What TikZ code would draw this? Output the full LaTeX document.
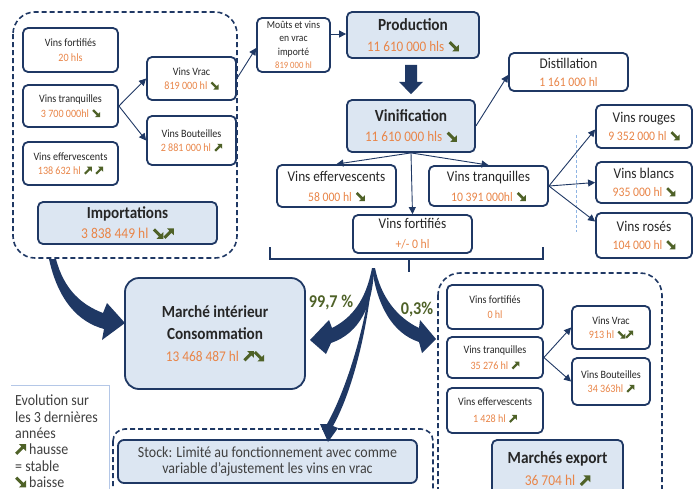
\documentclass[tikz,border=0pt]{standalone}
\usepackage{fontspec}
\setmainfont{Carlito}[FakeStretch=0.9]
\usetikzlibrary{arrows.meta,calc}
\definecolor{navy}{HTML}{1F3864}
\definecolor{lblue}{HTML}{DCE6F2}
\definecolor{orng}{HTML}{E98548}
\definecolor{olive}{HTML}{4F6228}
\definecolor{txt}{HTML}{262626}
\definecolor{gtxt}{HTML}{404040}
\definecolor{legb}{HTML}{B4C7E7}
\definecolor{dashb}{HTML}{8EB4E3}
\newcommand\fs[2]{\fontsize{#1}{#2}\selectfont}
\newcommand\trendup{\tikz[baseline=0pt,x=0.7em,y=0.7em,sharp corners]\fill[olive] (0,0.2)--(0.575,0.775)--(0.35,1)--(1,1)--(1,0.35)--(0.775,0.575)--(0.2,0)--cycle;}
\newcommand\trenddn{\tikz[baseline=0pt,x=0.7em,y=0.7em,sharp corners]\fill[olive] (0,0.8)--(0.575,0.225)--(0.35,0)--(1,0)--(1,0.65)--(0.775,0.425)--(0.2,1)--cycle;}
\newcommand\vl[1]{\textcolor{orng}{#1}\hspace{0.3em}}
\tikzset{
  bx/.style={draw=navy, line width=1.8pt, rounded corners=5pt, fill=white, inner sep=0pt, align=center, text=txt},
  fbx/.style={bx, fill=lblue},
  sm/.style={font=\fs{11.2}{14.5}},
  md/.style={font=\fs{14.8}{20}},
  lnk/.style={draw=navy, line width=0.9pt, -{Triangle[length=7pt,width=7pt]}},
  dashreg/.style={draw=navy, line width=1.6pt, dash pattern=on 5pt off 3pt, rounded corners=22pt},
  swoosh/.style={fill=navy},
}
\begin{document}
\begin{tikzpicture}[x=1pt,y=-1pt]
\useasboundingbox (0,0) rectangle (696,488);
\fill[white] (0,0) rectangle (696,488);

% dashed regions
\draw[dashreg] (13,12) rectangle (237,258);
\draw[dashreg] (438,273) rectangle (662,530);
\draw[dashreg, rounded corners=12pt] (113,429) rectangle (433,530);

% legend frame
\draw[legb, line width=0.8pt] (11,385) -- (109,385) -- (109,495);

% top-left import group
\node[bx, sm, minimum width=95pt, minimum height=44pt] (tlF) at (70.5,50) {Vins fortifiés\\\textcolor{orng}{20 hls}};
\node[bx, sm, minimum width=95pt, minimum height=42pt] (tlT) at (70.5,106) {Vins tranquilles\\\vl{3 700 000hl}\trenddn};
\node[bx, sm, minimum width=95pt, minimum height=43pt] (tlE) at (70.5,163.5) {Vins effervescents\\\vl{138 632 hl}\trendup\hspace{0.3em}\trendup};
\node[bx, sm, minimum width=89pt, minimum height=43pt] (tlV) at (191.5,78.5) {Vins Vrac\\\vl{819 000 hl}\trenddn};
\node[bx, sm, minimum width=89pt, minimum height=49pt] (tlB) at (191.5,140.5) {Vins Bouteilles\\\vl{2 881 000 hl}\trendup};
\node[fbx, font=\fs{16.8}{20}, minimum width=179pt, minimum height=42pt] (imp) at (127.5,223) {\textbf{Importations}\\{\fs{15}{20}\vl{3 838 449 hl}\trenddn\trendup}};

\draw[lnk] (tlT.east) -- (tlV.west);
\draw[lnk] (tlT.east) -- (tlB.west);

% production chain
\node[bx, font=\fs{10.7}{13.3}, minimum width=73pt, minimum height=54pt] (mouts) at (293.5,45) {Moûts et vins\\en vrac\\importé\\{\fs{9.6}{13.3}\textcolor{orng}{819 000 hl}}};
\node[fbx, font=\fs{17}{21}, minimum width=132pt, minimum height=46pt] (prod) at (413,35) {\textbf{Production}\\{\fs{14.6}{21}\vl{11 610 000 hls}\trenddn}};
\node[fbx, font=\fs{17}{20}, minimum width=128pt, minimum height=52pt] (vinif) at (411,126) {\textbf{Vinification}\\{\fs{14.6}{20}\vl{11 610 000 hls}\trenddn}};
\node[bx, font=\fs{14.8}{18}, minimum width=119pt, minimum height=38pt] (dist) at (568.5,72) {Distillation\\{\fs{13}{18}\textcolor{orng}{1 161 000 hl}}};

\draw[lnk] (tlV.east) -- ($(mouts.west)+(0,3)$);
\draw[lnk] (mouts.east |- 0,34) -- (prod.west |- 0,34);
\fill[navy] ($(prod.south)+(-8,6)$) -- ($(prod.south)+(4,6)$) -- ($(prod.south)+(4,23)$) -- ($(prod.south)+(10,23)$) -- ($(vinif.north)+(0,-5)$) -- ($(prod.south)+(-14,23)$) -- ($(prod.south)+(-8,23)$) -- cycle;
\draw[lnk] (vinif.east) -- ($(dist.west)+(0,3)$);

\node[bx, md, minimum width=119pt, minimum height=42pt] (mE) at (336.5,186) {Vins effervescents\\{\fs{13}{20}\vl{58 000 hl}\trenddn}};
\node[bx, md, minimum width=119pt, minimum height=40pt] (mT) at (488.5,186) {Vins tranquilles\\{\fs{13}{20}\vl{10 391 000hl}\trenddn}};
\node[bx, md, minimum width=119pt, minimum height=38pt] (mF) at (412.5,234) {Vins fortifiés\\{\fs{13}{20}\textcolor{orng}{+/- 0 hl}}};

\draw[lnk] (vinif.south) -- (mE.north);
\draw[lnk] (vinif.south) -- (mT.north);
\draw[lnk] (vinif.south) -- (mF.north);

% colour boxes
\node[bx, font=\fs{14.9}{17.5}, minimum width=96pt, minimum height=43pt] (rouge) at (644,126.5) {Vins rouges\\{\fs{13}{17.5}\vl{9 352 000 hl}\trenddn}};
\node[bx, font=\fs{14.9}{17.5}, minimum width=96pt, minimum height=41pt] (blanc) at (644,182.5) {Vins blancs\\{\fs{13}{17.5}\vl{935 000 hl}\trenddn}};
\node[bx, font=\fs{14.9}{17.5}, minimum width=96pt, minimum height=45pt] (rose) at (644,235.5) {Vins rosés\\{\fs{13}{17.5}\vl{104 000 hl}\trenddn}};
\draw[dashb, line width=0.8pt, dash pattern=on 3pt off 2pt] (576,135) -- (576,232);
\draw[lnk] (mT.east) -- ($(rouge.west)+(0,3)$);
\draw[lnk] (mT.east) -- (blanc.west);
\draw[lnk] (mT.east) -- ($(rose.west)+(0,-14)$);

% brace
\draw[navy, line width=1.1pt] (270,247) -- (270,259) -- (543,259) -- (543,247);
\draw[navy, line width=1.1pt] (409,259) -- (409,272);
\coordinate (orig) at (373,269);

% domestic market
\node[fbx, rounded corners=14pt, font=\fs{16.9}{22}, minimum width=180pt, minimum height=111pt] (march) at (215,333.5) {\textbf{Marché intérieur}\\\textbf{Consommation}\\{\fs{14.8}{22}\vl{13 468 487 hl}\trendup\trenddn}};

% export group
\node[bx, sm, minimum width=96pt, minimum height=44pt] (eF) at (495,307) {Vins fortifiés\\\textcolor{orng}{0 hl}};
\node[bx, sm, font=\fs{11.2}{16}, minimum width=96pt, minimum height=41pt] (eT) at (495,357.5) {Vins tranquilles\\\vl{35 276 hl}\trendup};
\node[bx, sm, font=\fs{11.2}{17}, minimum width=96pt, minimum height=45pt] (eE) at (495,410.5) {Vins effervescents\\\vl{1 428 hl}\trendup};
\node[bx, sm, minimum width=78pt, minimum height=43pt] (eV) at (611,327.5) {Vins Vrac\\\vl{913 hl}\trenddn\trendup};
\node[bx, sm, minimum width=78pt, minimum height=47pt] (eB) at (611,381.5) {Vins Bouteilles\\\vl{34 363hl}\trendup};
\node[fbx, font=\fs{17}{22}, minimum width=131pt, minimum height=58pt] (exp) at (557.5,469) {\textbf{Marchés export}\\{\fs{15}{22}\vl{36 704 hl}\trendup}};
\draw[lnk] (eT.east) -- (eV.west);
\draw[lnk] (eT.east) -- (eB.west);

% stock
\node[fbx, rounded corners=6pt, font=\fs{15.5}{16.5}, text=gtxt, minimum width=299pt, minimum height=43pt] (stock) at (267.5,461.5) {Stock: Limité au fonctionnement avec comme\\variable d'ajustement les vins en vrac};

% swoosh arrows
\fill[swoosh] (49,259) .. controls (58,300) and (78,322) .. (104,329) -- (102,340) -- (125,323) -- (107,303) -- (103,313) .. controls (82,305) and (64,290) .. (56,259) -- cycle;
\fill[swoosh] (374,268) .. controls (373,305) and (360,333) .. (331,343) -- (326,354) -- (310,340) -- (329,320) -- (332,328) .. controls (352,318) and (366,300) .. (372,268) -- cycle;
\fill[swoosh] (372,268) .. controls (377,305) and (392,333) .. (419,342) -- (422,353) -- (436,339) -- (420,320) -- (419,328) .. controls (398,318) and (381,298) .. (375,268) -- cycle;
\fill[swoosh] (orig) .. controls (368,330) and (352,392) .. (333,426) -- (338,428) -- (328,442) -- (320,424) -- (327,424) .. controls (346,390) and (365,330) .. (372.3,270) -- cycle;

% percentages
\node[font=\fs{18}{20}\bfseries, text=olive, inner sep=0pt] (pctA) at (331,303) {99,7 \%};
\node[font=\fs{18}{20}\bfseries, text=olive, inner sep=0pt] (pctB) at (417,310) {0,3\%};

% legend
\node[anchor=north west, inner sep=0pt, align=left, text=gtxt, font=\fs{15.5}{16.3}] (leg) at (15,395) {Evolution sur\\les 3 dernières\\années\\\trendup\ hausse\\= stable\\\trenddn\ baisse};
\end{tikzpicture}
\end{document}
